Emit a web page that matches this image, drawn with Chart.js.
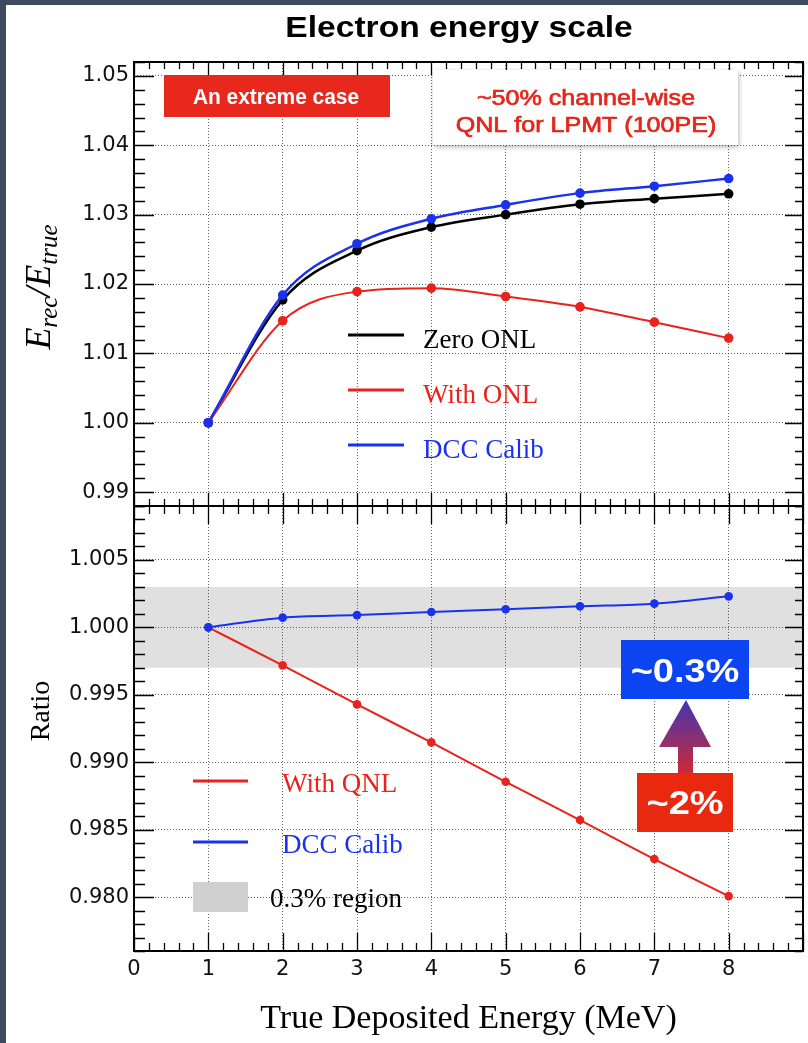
<!DOCTYPE html>
<html>
<head>
<meta charset="utf-8">
<script src="https://cdn.jsdelivr.net/npm/chart.js@4.4.1/dist/chart.umd.min.js"></script>
<style>
  body { margin: 0; background: #fff; }
  #page { position: relative; width: 808px; height: 1043px; overflow: hidden; background: #fff; }
  #page canvas { position: absolute; left: 0; top: 0; }
  .edge { position: absolute; background: #3e4b5d; }
</style>
</head>
<body>
<div id="page">
  <div class="edge" style="left:0;top:0;width:6px;height:1043px"></div>
  <div class="edge" style="left:0;top:0;width:808px;height:5px"></div>
  <canvas id="top-chart" width="808" height="1043"></canvas>
  <canvas id="bottom-chart" width="808" height="1043"></canvas>
</div>
<script>
//true deposited energy points (MeV)
let energies = [1, 2, 3, 4, 5, 6, 7, 8]
//top panel, E_rec / E_true
let zeroOnl = [1.0000, 1.0177, 1.0248, 1.0282, 1.0300, 1.0315, 1.0323, 1.0330]
let withOnl = [1.0000, 1.0147, 1.0189, 1.0194, 1.0182, 1.0167, 1.0145, 1.0122]
let dccCalib = [1.0000, 1.0184, 1.0258, 1.0294, 1.0314, 1.0331, 1.0341, 1.0352]
//bottom panel, ratio
let ratioQnl = [1.0000, 0.99718, 0.99429, 0.99147, 0.98855, 0.98571, 0.98282, 0.98007]
let ratioDcc = [1.0000, 1.00072, 1.00091, 1.00114, 1.00134, 1.00156, 1.00176, 1.00230]
//grey 0.3% band (low, high)
let bandLimits = [0.997, 1.003]
//tick labels
let xTicks = [0, 1, 2, 3, 4, 5, 6, 7, 8]
let topTicks = [0.99, 1.00, 1.01, 1.02, 1.03, 1.04, 1.05]
let bottomTicks = [0.980, 0.985, 0.990, 0.995, 1.000, 1.005]

let red = '#e8231c'
let blue = '#1b32ec'
let black = '#000000'
let tickFont = {family: 'DejaVu Sans', size: 21}

//turning a value list into x/y points
function points(values) {
    return energies.map((e, i) => ({x: e, y: values[i]}))
}

function series(label, values, color, radius, width) {
    return {
        label: label,
        data: points(values),
        borderColor: color,
        backgroundColor: color,
        pointBackgroundColor: color,
        pointBorderWidth: 0,
        pointRadius: radius,
        borderWidth: width,
        cubicInterpolationMode: 'monotone',
        fill: false
    }
}

//text with an optional horizontal stretch and a thin outline to make it heavier
function text(ctx, str, x, y, font, color, align, stretch, outline) {
    ctx.save()
    ctx.font = font
    ctx.fillStyle = color
    ctx.textAlign = align || 'left'
    ctx.textBaseline = 'alphabetic'
    ctx.translate(x, y)
    ctx.scale(stretch || 1, 1)
    ctx.fillText(str, 0, 0)
    if (outline) {
        ctx.strokeStyle = color
        ctx.lineWidth = outline
        ctx.strokeText(str, 0, 0)
    }
    ctx.restore()
}

//rotated text made of pieces (for sub-scripts)
function rotatedText(ctx, parts, baseX, centerY) {
    ctx.save()
    ctx.translate(baseX, centerY)
    ctx.rotate(-Math.PI / 2)
    ctx.fillStyle = '#000'
    ctx.textBaseline = 'alphabetic'
    let total = 0
    parts.forEach(p => { ctx.font = p.font; total += ctx.measureText(p.text).width })
    let x = -total / 2
    parts.forEach(p => {
        ctx.font = p.font
        ctx.fillText(p.text, x, p.dy || 0)
        x += ctx.measureText(p.text).width
    })
    ctx.restore()
}

//ROOT style frame with inner ticks on all four sides
function drawFrame(chart, minorY, majorY, xLen) {
    let ctx = chart.ctx
    let a = chart.chartArea
    let xs = chart.scales.x
    let ys = chart.scales.y
    ctx.save()
    ctx.strokeStyle = '#000'
    ctx.lineWidth = 1.3
    ctx.beginPath()
    for (let i = 0; i * 0.2 <= xs.max + 1e-9; i++) {
        let v = i * 0.2
        let major = i % 5 === 0
        let px = Math.round(xs.getPixelForValue(v)) + 0.5
        let len = major ? xLen[0] : xLen[1]
        ctx.moveTo(px, a.bottom)
        ctx.lineTo(px, a.bottom - len)
        ctx.moveTo(px, a.top)
        ctx.lineTo(px, a.top + len)
    }
    for (let i = Math.ceil(ys.min / minorY - 1e-6); i * minorY <= ys.max + 1e-9; i++) {
        let v = i * minorY
        let r = v / majorY
        let major = Math.abs(r - Math.round(r)) < 1e-4
        let py = Math.round(ys.getPixelForValue(v)) + 0.5
        ctx.moveTo(a.left, py)
        ctx.lineTo(a.left + (major ? 20 : 11), py)
        ctx.moveTo(a.right, py)
        ctx.lineTo(a.right - (major ? 18 : 8), py)
    }
    ctx.stroke()
    ctx.lineWidth = 2
    ctx.strokeRect(a.left, a.top, a.right - a.left, a.bottom - a.top)
    ctx.restore()
}

function legendLine(ctx, x1, x2, y, color) {
    ctx.save()
    ctx.strokeStyle = color
    ctx.lineWidth = 3
    ctx.beginPath()
    ctx.moveTo(x1, y)
    ctx.lineTo(x2, y)
    ctx.stroke()
    ctx.restore()
}

let serif = '27px "Liberation Serif"'

//drawings on top of the upper panel
let topOverlay = {
    id: 'topOverlay',
    afterDraw(chart) {
        let ctx = chart.ctx
        drawFrame(chart, 0.002, 0.01, [13, 7])

        //title
        text(ctx, 'Electron energy scale', 459, 37, 'bold 30px "Liberation Sans"', '#000', 'center', 1.12)

        //red label box
        ctx.fillStyle = '#e8281c'
        ctx.fillRect(164, 75, 226, 42)
        text(ctx, 'An extreme case', 276, 104, 'bold 22px "Liberation Sans"', '#fff', 'center', 0.95)

        //white note box with shadow
        ctx.save()
        ctx.shadowColor = 'rgba(0,0,0,0.28)'
        ctx.shadowBlur = 5
        ctx.shadowOffsetX = 1
        ctx.shadowOffsetY = 2
        ctx.fillStyle = '#fff'
        ctx.fillRect(433, 70, 305, 75)
        ctx.restore()
        text(ctx, '~50% channel-wise', 586, 105, '22px "Liberation Sans"', '#e3261b', 'center', 1.14, 0.7)
        text(ctx, 'QNL for LPMT (100PE)', 586, 132, '22px "Liberation Sans"', '#e3261b', 'center', 1.14, 0.7)

        //legend
        legendLine(ctx, 348, 404, 335, black)
        text(ctx, 'Zero ONL', 423, 348, serif, black)
        legendLine(ctx, 348, 404, 390, red)
        text(ctx, 'With ONL', 423, 403, serif, red)
        legendLine(ctx, 348, 404, 445, blue)
        text(ctx, 'DCC Calib', 423, 458, serif, blue)

        //y title  E_rec / E_true
        let big = 'italic 36px "Liberation Serif"'
        let small = 'italic 25px "Liberation Serif"'
        rotatedText(ctx, [
            {text: 'E', font: big},
            {text: 'rec', font: small, dy: 7},
            {text: '/', font: big},
            {text: 'E', font: big},
            {text: 'true', font: small, dy: 7}
        ], 50, 287)
    }
}

//drawings on top of the lower panel
let bottomOverlay = {
    id: 'bottomOverlay',
    afterDraw(chart) {
        let ctx = chart.ctx
        drawFrame(chart, 0.001, 0.005, [18, 8])

        //legend
        legendLine(ctx, 193, 248, 781, red)
        text(ctx, 'With QNL', 282, 792, serif, red)
        legendLine(ctx, 193, 248, 842, blue)
        text(ctx, 'DCC Calib', 282, 853, serif, blue)
        ctx.fillStyle = '#d0d0d0'
        ctx.fillRect(193, 882, 55, 30)
        text(ctx, '0.3% region', 270, 907, serif, black)

        //gradient arrow from ~2% up to ~0.3%
        let grad = ctx.createLinearGradient(0, 773, 0, 700)
        grad.addColorStop(0, '#cc2a36')
        grad.addColorStop(1, '#4036b4')
        ctx.fillStyle = grad
        ctx.beginPath()
        ctx.moveTo(678, 773)
        ctx.lineTo(678, 747)
        ctx.lineTo(659, 747)
        ctx.lineTo(686, 700)
        ctx.lineTo(711, 747)
        ctx.lineTo(693, 747)
        ctx.lineTo(693, 773)
        ctx.closePath()
        ctx.fill()

        ctx.fillStyle = '#0b44f0'
        ctx.fillRect(621, 640, 128, 59)
        text(ctx, '~0.3%', 685, 682, 'bold 33px "Liberation Sans"', '#fff', 'center', 1.15)
        ctx.fillStyle = '#e8280f'
        ctx.fillRect(637, 773, 96, 59)
        text(ctx, '~2%', 685, 814, 'bold 33px "Liberation Sans"', '#fff', 'center', 1.15)

        //y title
        rotatedText(ctx, [{text: 'Ratio', font: '28px "Liberation Serif"'}], 49, 711)
    }
}

let gridLook = {color: 'rgba(0,0,0,0.6)', lineWidth: 1, drawTicks: false}
let dotted = {display: false, dash: [1, 2]}

//upper panel
new Chart(document.getElementById('top-chart'), {
    type: 'line',
    data: {
        datasets: [
            series('DCC Calib', dccCalib, blue, 4.8, 2.5),
            series('With ONL', withOnl, red, 4.8, 2),
            series('Zero ONL', zeroOnl, black, 4.8, 2.5)
        ]
    },
    options: {
        responsive: false,
        animation: false,
        layout: {padding: {top: 62, left: 0, right: 5, bottom: 537}},
        plugins: {legend: {display: false}, tooltip: {enabled: false}},
        scales: {
            x: {
                type: 'linear', min: 0, max: 9,
                grid: gridLook, border: dotted,
                ticks: {display: false},
                afterBuildTicks: s => { s.ticks = xTicks.map(v => ({value: v})) },
                afterFit: s => { s.height = 0 }
            },
            y: {
                min: 0.988, max: 1.052,
                grid: gridLook, border: dotted,
                ticks: {font: tickFont, color: '#111', padding: 5, callback: v => v.toFixed(2)},
                afterBuildTicks: s => { s.ticks = topTicks.map(v => ({value: v})) },
                afterFit: s => { s.width = 134 }
            }
        }
    },
    plugins: [topOverlay]
})

//lower panel
new Chart(document.getElementById('bottom-chart'), {
    type: 'line',
    data: {
        datasets: [
            series('DCC Calib', ratioDcc, blue, 4.3, 2),
            series('With QNL', ratioQnl, red, 4.3, 2),
            {
                label: '0.3% region',
                data: [{x: 0, y: bandLimits[1]}, {x: 9, y: bandLimits[1]}],
                borderColor: 'transparent',
                borderWidth: 0,
                pointRadius: 0,
                backgroundColor: '#e0e0e0',
                fill: {value: bandLimits[0]}
            }
        ]
    },
    options: {
        responsive: false,
        animation: false,
        layout: {padding: {top: 506, left: 0, right: 5, bottom: 0}},
        plugins: {legend: {display: false}, tooltip: {enabled: false}, filler: {drawTime: 'beforeDraw'}},
        scales: {
            x: {
                type: 'linear', min: 0, max: 9,
                grid: gridLook, border: dotted,
                ticks: {font: tickFont, color: '#111', padding: 6, maxRotation: 0, autoSkip: false, callback: v => String(v)},
                title: {display: true, text: 'True Deposited Energy (MeV)', color: '#000',
                    font: {family: 'Liberation Serif', size: 34}, padding: {top: 0, bottom: 4}},
                afterBuildTicks: s => { s.ticks = xTicks.map(v => ({value: v})) },
                afterFit: s => { s.height = 92 }
            },
            y: {
                min: 0.976, max: 1.009,
                grid: gridLook, border: dotted,
                ticks: {font: tickFont, color: '#111', padding: 5, callback: v => v.toFixed(3)},
                afterBuildTicks: s => { s.ticks = bottomTicks.map(v => ({value: v})) },
                afterFit: s => { s.width = 134 }
            }
        }
    },
    plugins: [bottomOverlay]
})
</script>
</body>
</html>
